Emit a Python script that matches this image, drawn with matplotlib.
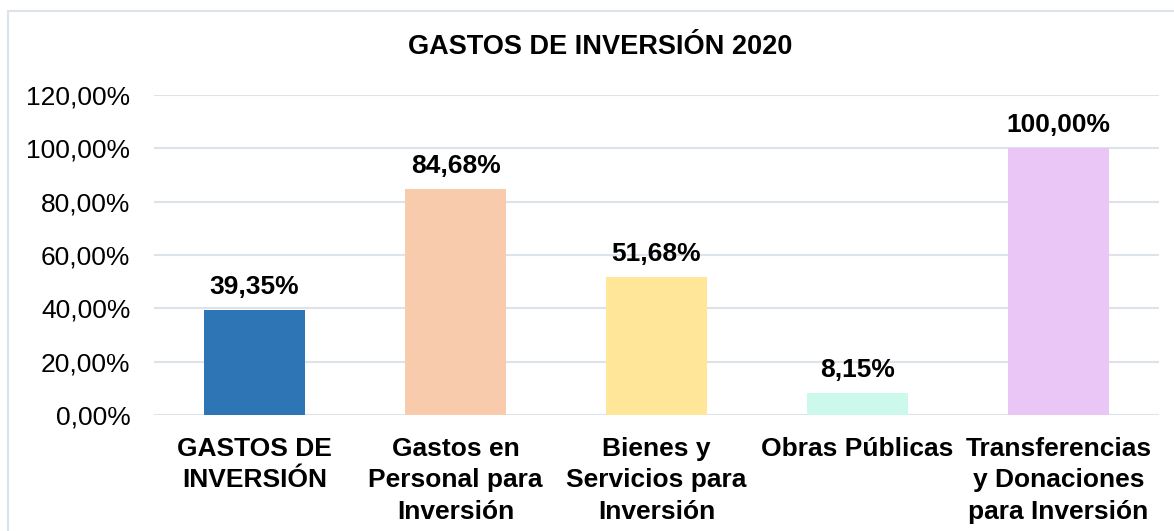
import matplotlib.pyplot as plt
from matplotlib.patches import Rectangle

plt.rcParams['font.family'] = ['Liberation Sans', 'DejaVu Sans']

categories = ['GASTOS DE\nINVERSIÓN', 'Gastos en\nPersonal para\nInversión',
              'Bienes y\nServicios para\nInversión', 'Obras Públicas',
              'Transferencias\ny Donaciones\npara Inversión']
values = [39.35, 84.68, 51.68, 8.15, 100.00]
colors = ['#2E75B6', '#F8CBAD', '#FFE699', '#CCF9EB', '#EAC6F7']
yticks = [0, 20, 40, 60, 80, 100, 120]


def pct(v):
    return f'{v:.2f}%'.replace('.', ',')


fig = plt.figure(figsize=(11.74, 5.31), dpi=100)
ax = fig.add_axes([154 / 1174, 1 - 415 / 531, (1159 - 154) / 1174, (415 - 95) / 531])

x = range(len(categories))
bars = ax.bar(x, values, width=0.5, color=colors, zorder=3)
for b, v in zip(bars, values):
    ax.annotate(pct(v), (b.get_x() + b.get_width() / 2, v), xytext=(0, 8),
                textcoords='offset points', ha='center', va='bottom',
                fontsize=19, fontweight='bold')

ax.set_xlim(-0.5, len(categories) - 0.5)
ax.set_ylim(0, 120)
ax.set_yticks(yticks)
ax.set_yticklabels([pct(t) for t in yticks], fontsize=19)
ax.set_xticks(list(x))
ax.set_xticklabels(categories, fontsize=19, fontweight='bold', linespacing=1.38)
ax.tick_params(length=0)
ax.tick_params(axis='y', pad=17)
ax.tick_params(axis='x', pad=16)
ax.grid(axis='y', color='#DDE3EA', linewidth=1.5, zorder=0)
for s in ax.spines.values():
    s.set_visible(False)

fig.text(600 / 1174, 1 - 47 / 531, 'GASTOS DE INVERSIÓN 2020', ha='center', va='center',
         fontsize=19.5, fontweight='bold')

fig.patches.append(Rectangle((8 / 1174, -0.05), 1.2, 1 - 11 / 531 + 0.05,
                             transform=fig.transFigure, fill=False,
                             edgecolor='#DDE3EA', linewidth=1.5))

fig.savefig('out.png', dpi=100)
